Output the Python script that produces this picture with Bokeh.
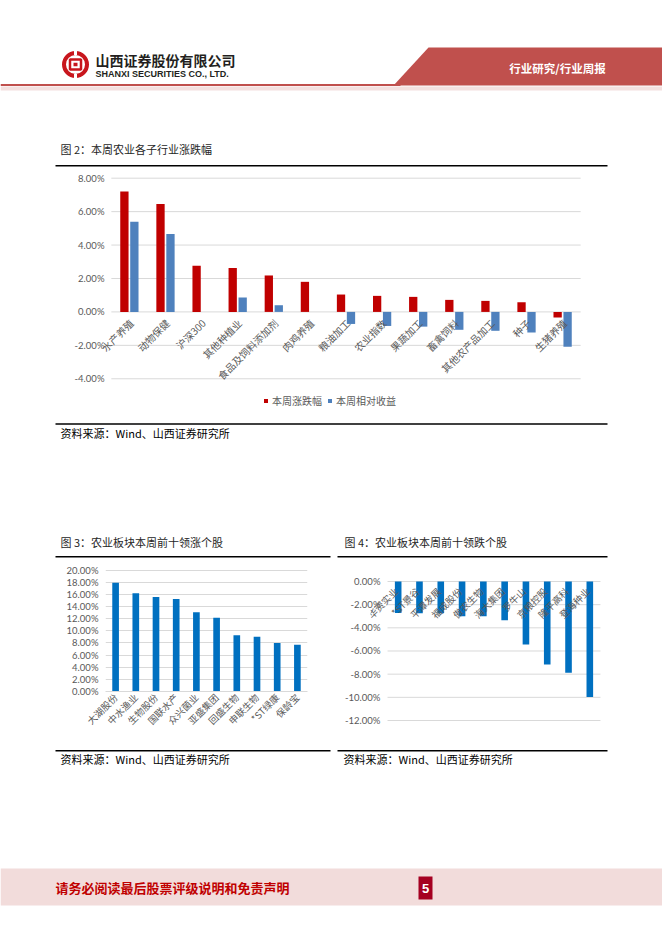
import math
import numpy as np
from bokeh.plotting import figure
from bokeh.layouts import column, row
from bokeh.models import (Range1d, FactorRange, FixedTicker, PrintfTickFormatter,
                          Legend, LegendItem, ColumnDataSource, LabelSet)
from bokeh.transform import dodge
from bokeh.core.properties import value
from bokeh.embed import file_html
from bokeh.resources import INLINE

CJK = "Noto Sans CJK SC"
NUM = "Lato"

# ---------------- data ----------------
sub_industries = ["水产养殖", "动物保健", "沪深300", "其他种植业", "食品及饲料添加剂", "肉鸡养殖",
                  "粮油加工", "农业指数", "果蔬加工", "畜禽饲料", "其他农产品加工", "种子", "生猪养殖"]
weekly_change = [7.20, 6.46, 2.76, 2.62, 2.18, 1.80, 1.04, 0.96, 0.90, 0.72, 0.66, 0.58, -0.33]
relative_return = [5.40, 4.66, None, 0.86, 0.40, None, -0.72, -0.84, -0.88, -1.07, -1.13, -1.23, -2.08]
ticks_2 = [-4, -2, 0, 2, 4, 6, 8]
legend_names = ["本周涨跌幅", "本周相对收益"]

gainers = ["大湖股份", "中水渔业", "生物股份", "国联水产", "众兴菌业",
           "亚盛集团", "回盛生物", "申联生物", "*ST绿康", "保龄宝"]
gainer_change = [17.9, 16.2, 15.55, 15.25, 13.05, 12.15, 9.25, 9.0, 8.0, 7.7]
ticks_3 = [0, 2, 4, 6, 8, 10, 12, 14, 16, 18, 20]

losers = ["华资实业", "*ST景谷", "平潭发展", "福成股份", "傲农生物",
          "海大集团", "罗牛山", "京粮控股", "隆平高科", "登海种业"]
loser_change = [-2.73, -2.75, -2.75, -3.0, -3.0, -3.35, -5.43, -7.16, -7.87, -9.98]
ticks_4 = [-12, -10, -8, -6, -4, -2, 0]

title_2 = "图 2：本周农业各子行业涨跌幅"
title_3 = "图 3：农业板块本周前十领涨个股"
title_4 = "图 4：农业板块本周前十领跌个股"
source_text = "资料来源：Wind、山西证券研究所"

RED = "#C00000"
BLUE2 = "#4F81BD"
BLUE = "#0070C0"
GRID = "#D9D9D9"
LBL = "#595959"
PAGE_W = 662


# ---------------- helpers ----------------
def deco(y_top, y_bot):
    p = figure(width=PAGE_W, height=y_bot - y_top, x_range=Range1d(0, PAGE_W),
               y_range=Range1d(y_bot, y_top),
               x_axis_type=None, y_axis_type=None, output_backend="svg", toolbar_location=None,
               min_border=0, min_border_left=0, min_border_right=0, min_border_top=0,
               min_border_bottom=0, frame_align=False)
    p.outline_line_color = None
    p.background_fill_color = "white"
    p.border_fill_color = "white"
    return p


def txt(p, x, y, s, size, color="#000000", bold=False, align="left", font=CJK):
    p.text(x=[x], y=[y], text=[s], text_font=value(font), text_font_size=f"{size}px",
           text_color=color, text_font_style="bold" if bold else "normal",
           text_align=align, text_baseline="middle")


def hline(p, x0, x1, y, w=1.5, color="black"):
    p.line(x=[x0, x1], y=[y, y], line_color=color, line_width=w)


def style_y(p, ticks, standoff=7, own_grid=None):
    ax = p.yaxis[0]
    ax.ticker = FixedTicker(ticks=ticks)
    ax.formatter = PrintfTickFormatter(format="%.2f%%")
    ax.axis_line_color = None
    ax.major_tick_line_color = None
    ax.minor_tick_line_color = None
    ax.major_tick_out = 0
    ax.major_tick_in = 0
    ax.major_label_text_font = NUM
    ax.major_label_text_font_size = "9.5px"
    ax.major_label_text_color = LBL
    ax.major_label_standoff = standoff
    if own_grid is None:
        p.ygrid.ticker = FixedTicker(ticks=ticks)
        p.ygrid.grid_line_color = GRID
        p.ygrid.grid_line_width = 1
    else:
        # grid lines spanning only the category area (synthetic coords 0..n)
        p.ygrid.visible = False
        n = own_grid
        p.segment(x0=[0] * len(ticks), x1=[n] * len(ticks), y0=ticks, y1=ticks,
                  line_color=GRID, line_width=1)


def chart(width, height, xr, yr, left, right, top, bottom, xaxis=True):
    p = figure(width=width, height=height, x_range=xr, y_range=yr,
               x_axis_type=None if not xaxis else "auto",
               output_backend="svg", toolbar_location=None,
               min_border_left=left, min_border_right=right,
               min_border_top=top, min_border_bottom=bottom, frame_align=False)
    p.outline_line_color = None
    p.xgrid.visible = False
    return p


# ---------------- block A: header + title 2 (Y 0..167) ----------------
pA = deco(0, 167)
pA.circle(x=[75], y=[64], radius=11.5, fill_color=None, line_color="#C8161D", line_width=4)
pA.rect(x=[75], y=[64], width=11, height=10, fill_color=None, line_color="#C8161D", line_width=2.5)
pA.rect(x=[75], y=[64], width=4, height=3.5, fill_color="#C8161D", line_color=None)
pA.rect(x=[75], y=[52.5], width=3, height=4, fill_color="white", line_color=None)
pA.rect(x=[75], y=[75.5], width=3, height=4, fill_color="white", line_color=None)
txt(pA, 95, 59, "山西证券股份有限公司", 14, "#231F20", bold=True)
txt(pA, 95, 73, "SHANXI SECURITIES CO., LTD.", 9, "#231F20", bold=True, font="Liberation Sans")
pA.patch(x=[393, 428, 662, 662], y=[85, 47, 47, 85], fill_color="#C0504D", line_color=None)
hline(pA, 0, 400, 84.5, w=2, color="#C0504D")
pA.quad(left=[0], right=[662], top=[86], bottom=[90], fill_color="#F4E0DF", line_color=None)
txt(pA, 557, 67, "行业研究/行业周报", 11.5, "white", bold=True, align="center")
txt(pA, 60, 148, title_2, 11, "#262626")
hline(pA, 55, 607, 165.2)

# ---------------- block B: chart 2 (Y 167..422) ----------------
zero_y = 311.4
pxu = 16.717
y2_top = 8 + (177.7 - 172) / pxu
y2_bot = -(422 - zero_y) / pxu
xr2 = FactorRange(factors=sub_industries, range_padding=0.3, range_padding_units="absolute")
p2 = chart(PAGE_W, 255, xr2, Range1d(y2_bot, y2_top), 100, 71, 5, 0, xaxis=False)
style_y(p2, ticks_2, standoff=-4, own_grid=len(sub_industries))
src2 = ColumnDataSource(dict(
    cat=sub_industries,
    chg=np.array(weekly_change, dtype=float),
    rel=np.array([np.nan if v is None else v for v in relative_return], dtype=float),
    zero=np.zeros(len(sub_industries)),
))
r1 = p2.vbar(x=dodge("cat", -0.138, range=p2.x_range), top="chg", bottom=0, width=0.23,
             source=src2, fill_color=RED, line_color=None)
r2 = p2.vbar(x=dodge("cat", 0.138, range=p2.x_range), top="rel", bottom=0, width=0.23,
             source=src2, fill_color=BLUE2, line_color=None)
lab2 = LabelSet(x="cat", y="zero", text="cat", source=src2, angle=math.pi / 4,
                text_align="right", text_baseline="middle", x_offset=2, y_offset=-9,
                text_font=value(CJK), text_font_size=value("10px"), text_color=LBL)
p2.add_layout(lab2)
leg = Legend(items=[LegendItem(label=legend_names[0], renderers=[r1]),
                    LegendItem(label=legend_names[1], renderers=[r2])],
             orientation="horizontal", location=(163, 14))
leg.border_line_color = None
leg.background_fill_alpha = 0
leg.padding = 0
leg.margin = 0
leg.spacing = 5
leg.glyph_width = 5
leg.glyph_height = 5
leg.label_standoff = 4
leg.label_height = 12
leg.label_text_font = CJK
leg.label_text_font_size = "10px"
leg.label_text_color = LBL
p2.add_layout(leg)

# ---------------- block C: source + titles 3/4 (Y 422..558) ----------------
pC = deco(422, 558)
hline(pC, 55, 607, 423.6)
txt(pC, 60, 432, source_text, 11, "#000000")
txt(pC, 60, 541, title_3, 11, "#262626")
txt(pC, 344, 541, title_4, 11, "#262626")
hline(pC, 55, 330, 556.2)
hline(pC, 337, 607, 556.2)

# ---------------- block D: charts 3 and 4 (Y 558..748) ----------------
pxu3 = 6.07
p3 = chart(335, 190, FactorRange(factors=gainers), Range1d(0, 126 / pxu3), 105, 28, 7, 57)
style_y(p3, ticks_3)
ax3 = p3.xaxis[0]
ax3.major_label_orientation = math.pi / 4
ax3.axis_line_color = GRID
ax3.major_tick_line_color = None
ax3.minor_tick_line_color = None
ax3.major_tick_out = 0
ax3.major_tick_in = 0
ax3.major_label_text_font = CJK
ax3.major_label_text_font_size = "9.5px"
ax3.major_label_text_color = LBL
ax3.major_label_standoff = 4
src3 = ColumnDataSource(dict(name=gainers, chg=gainer_change))
p3.vbar(x="name", top="chg", bottom=0, width=0.33, source=src3, fill_color=BLUE, line_color=None)

pxu4 = 11.583
xr4 = FactorRange(factors=losers, range_padding=0.8, range_padding_units="absolute")
p4 = chart(327, 190, xr4, Range1d(-(748 - 581) / pxu4, (581 - 574) / pxu4),
           35, 45, 16, 0, xaxis=False)
style_y(p4, ticks_4, standoff=-10, own_grid=len(losers))
src4 = ColumnDataSource(dict(name=losers, chg=loser_change))
p4.vbar(x="name", top=0, bottom="chg", width=0.31, source=src4, fill_color=BLUE, line_color=None)
p4.text(x="name", y=0, text="name", source=src4, angle=math.pi / 4, text_align="right",
        text_baseline="middle", x_offset=-2, y_offset=8, text_font=value(CJK),
        text_font_size="9.5px", text_color=LBL)

# ---------------- block E: sources + footer (Y 748..934) ----------------
pE = deco(748, 934)
hline(pE, 55, 330, 750.2)
hline(pE, 337, 607, 750.2)
txt(pE, 60, 758, source_text, 11, "#000000")
txt(pE, 343, 758, source_text, 11, "#000000")
pE.quad(left=[0], right=[662], top=[868], bottom=[905], fill_color="#F2DCDB", line_color=None)
txt(pE, 55, 887, "请务必阅读最后股票评级说明和免责声明", 13, "#C00000", bold=True)
pE.quad(left=[418], right=[432], top=[876], bottom=[899], fill_color="#A50021", line_color=None)
txt(pE, 425, 887.5, "5", 13, "white", bold=True, align="center", font="Liberation Sans")

layout = column(pA, p2, pC, row(p3, p4, spacing=0), pE, spacing=0)

with open("out.html", "w", encoding="utf-8") as f:
    f.write(file_html(layout, INLINE))
